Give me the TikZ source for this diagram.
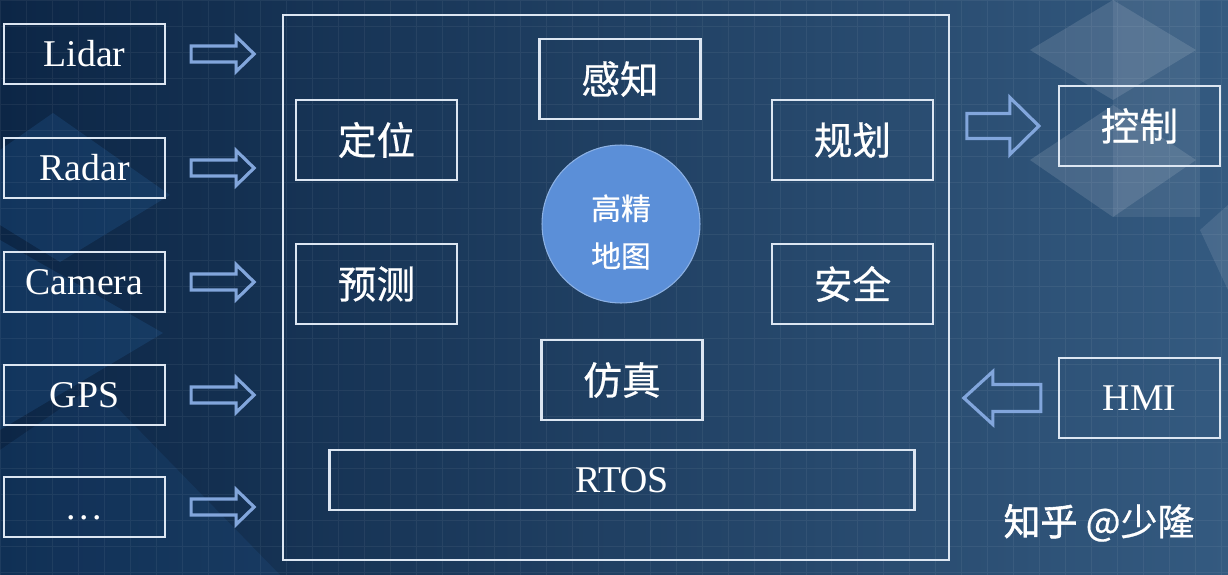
\documentclass[tikz,border=0pt]{standalone}
\usepackage{fontspec}
\setmainfont{Liberation Serif}
\newfontfamily\cjk{Noto Sans CJK SC}[FakeBold=0.6]
\newfontfamily\cjkbold{Noto Sans CJK SC}[FakeBold=1.6]
\usetikzlibrary{calc}

\definecolor{bgdark}{HTML}{0C2646}
\definecolor{bgmid}{HTML}{1A3D62}
\definecolor{bglight}{HTML}{345A80}
\definecolor{decoblue}{HTML}{2A6CB0}
\definecolor{boxline}{HTML}{DCE6F2}
\definecolor{arrowline}{HTML}{82A6DC}
\definecolor{mapblue}{HTML}{5B8FD8}

% hollow block arrow: start, tip, shaft half height, head half height, head length
\newcommand{\blockarrow}[5]{%
  \draw[hollow] let \p1=(#1), \p2=(#2), \n1={\x2-(#5)} in
    (\x1,{\y1+#3}) -- (\n1,{\y1+#3}) -- (\n1,{\y1+#4}) -- (\x2,\y1)
    -- (\n1,{\y1-#4}) -- (\n1,{\y1-#3}) -- (\x1,{\y1-#3}) -- cycle;}

\begin{document}
\begin{tikzpicture}[
    x=0.02cm, y=-0.02cm,
    frame/.style={rectangle, draw=boxline, line width=1.3pt, minimum width=3.22cm, minimum height=1.2cm, inner sep=0pt, text=white},
    sensor/.style={frame, text height=0.5cm, text depth=0pt, font=\fontsize{21.5}{24}\selectfont},
    module/.style={frame, minimum height=1.6cm, font=\cjk\fontsize{22}{26}\selectfont},
    hdmap/.style={circle, fill=mapblue, draw=mapblue!70!white, line width=0.6pt, minimum size=3.16cm, inner sep=0pt},
    maptext/.style={align=center, text=white, font=\cjk\fontsize{17}{27}\selectfont},
    hollow/.style={draw=arrowline, line width=1.8pt, line join=miter},
    deco/.style={fill=#1, fill opacity=0.22, draw=none},
    gridline/.style={white, opacity=0.06, line width=0.4pt}
]
\useasboundingbox (0,0) rectangle (1228,575);

% Background
\shade[left color=bgdark, middle color=bgmid, right color=bglight] (0,0) rectangle (1228,575);
\fill[deco=decoblue] (0,150) -- (53,113) -- (170,195) -- (60,262) -- (0,225) -- cycle;
\fill[deco=decoblue] (0,240) -- (163,333) -- (0,430) -- cycle;
\fill[deco=decoblue, fill opacity=0.15] (0,450) -- (95,385) -- (280,575) -- (0,575) -- cycle;
\fill[deco=white, fill opacity=0.12] (1030,50) -- (1113,0) -- (1196,50) -- (1113,100) -- cycle;
\fill[deco=white, fill opacity=0.12] (1030,160) -- (1113,105) -- (1196,160) -- (1113,217) -- cycle;
\fill[deco=white, fill opacity=0.08] (1113,0) rectangle (1200,217);
\fill[deco=white, fill opacity=0.10] (1200,230) -- (1228,205) -- (1228,290) -- cycle;
\draw[gridline] (0,575) grid[step=0.52cm] (1228,0);

% Sensors
\node[sensor] (lidar)  at (84.5,54)  {Lidar};
\node[sensor] (radar)  at (84.5,168) {Radar};
\node[sensor] (camera) at (84.5,282) {Camera};
\node[sensor] (gps)    at (84.5,395) {GPS};
\node[sensor] (more)   at (84.5,507) {.\kern2pt.\kern2pt.};

% Core system
\node[frame, line width=1.1pt, minimum width=13.32cm, minimum height=10.9cm] (core) at (616,287.5) {};
\node[module] (percep) at (620,79)    {感知};
\node[module] (locate) at (376.5,140) {定位};
\node[module] (plan)   at (852.5,140) {规划};
\node[module] (pred)   at (376.5,284) {预测};
\node[module] (safety) at (852.5,284) {安全};
\node[module] (sim)    at (622,380)   {仿真};
\node[hdmap]  (map)    at (621,224)   {};
\node[maptext] (maptxt) at ([yshift=-0.16cm]map.center) {高精\\地图};
\node[sensor, minimum width=11.7cm] (rtos) at (622,480) {RTOS};

% Outputs
\node[module] (ctrl) at (1139.5,126) {控制};
\node[sensor, minimum height=1.6cm] (hmi) at (1139.5,398) {HMI};

% Arrows
\foreach \s in {lidar,radar,camera,gps,more} {
  \coordinate (\s-a) at ([xshift=0.5cm]\s.east);
  \coordinate (\s-b) at ([xshift=-0.56cm]core.west |- \s.east);
  \blockarrow{\s-a}{\s-b}{0.16cm}{0.35cm}{0.36cm}
}
\coordinate (ctrl-a) at ([xshift=0.34cm]core.east |- ctrl.west);
\coordinate (ctrl-b) at ([xshift=-0.38cm]ctrl.west);
\blockarrow{ctrl-a}{ctrl-b}{0.25cm}{0.57cm}{0.58cm}
\coordinate (hmi-a) at ([xshift=-0.34cm]hmi.west);
\coordinate (hmi-b) at ([xshift=0.28cm]core.east |- hmi.west);
\blockarrow{hmi-a}{hmi-b}{0.27cm}{0.53cm}{-0.58cm}

% Watermark
\node[text=white, font=\cjk\fontsize{21}{24}\selectfont] (zhihu) at (1099,523) {{\cjkbold 知乎} @少隆};

\end{tikzpicture}
\end{document}
